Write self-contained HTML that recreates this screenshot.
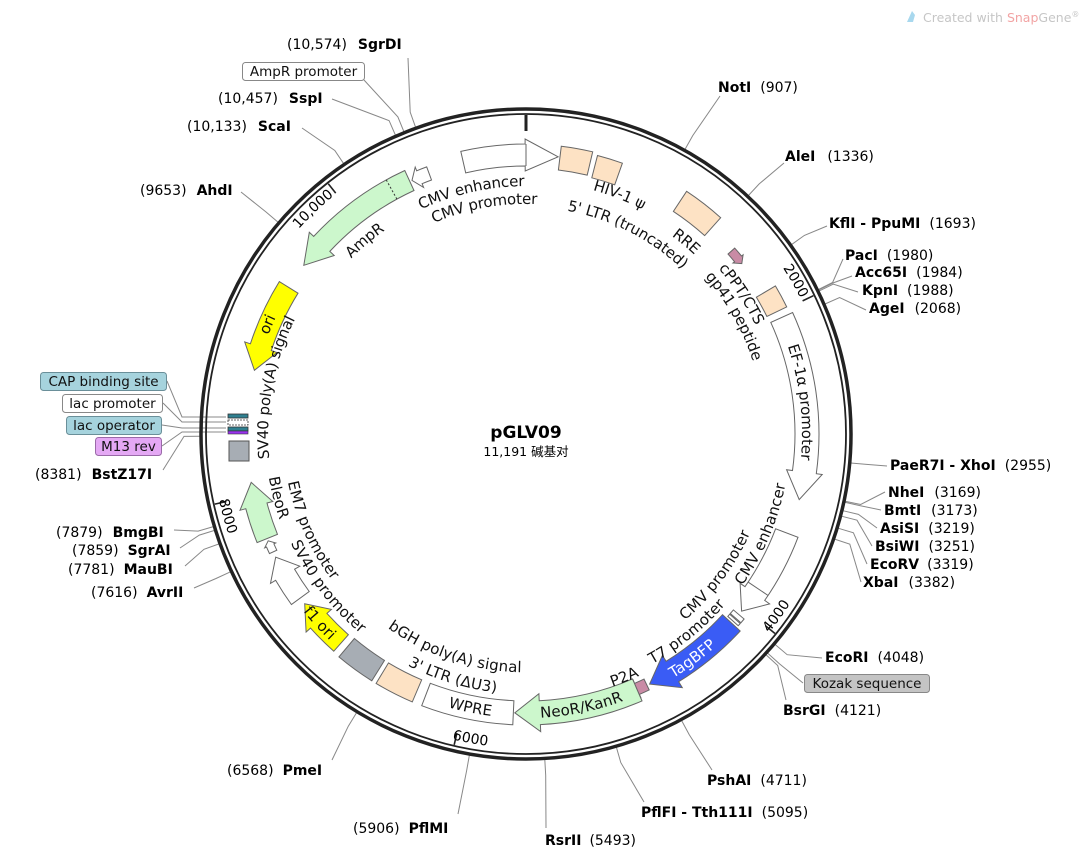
<!DOCTYPE html>
<html><head><meta charset="utf-8">
<style>
html,body{margin:0;padding:0;background:#fff;}
svg{display:block;font-family:"DejaVu Sans","Liberation Sans","Noto Sans CJK SC",sans-serif;}
.e{font-size:14px;fill:#000;}
.b{font-weight:bold;}
.fl{font-size:15px;fill:#111;}
.tk{font-size:14px;fill:#000;}
.bx{font-size:13.5px;fill:#111;}
</style></head>
<body>
<svg id="s" width="1083" height="859" viewBox="0 0 1083 859" xmlns="http://www.w3.org/2000/svg">
<defs id="d"></defs>
<g id="lines" stroke="#888" stroke-width="1" fill="none"></g>
<circle cx="526" cy="434" r="325" fill="none" stroke="#222" stroke-width="3.5"/>
<circle cx="526" cy="434" r="320" fill="none" stroke="#222" stroke-width="1.8"/>
<g id="ticks" stroke="#222" stroke-width="1.6"></g>
<g id="feats" stroke="#666" stroke-width="1"></g>

<rect x="228" y="414" width="20" height="4" fill="#2f7f8f" stroke="#333" stroke-width="0.8"/>
<rect x="228" y="420" width="20" height="5" fill="#fff" stroke="#333" stroke-width="0.8" stroke-dasharray="2,1"/>
<rect x="228" y="427" width="20" height="4" fill="#2f7f8f" stroke="#333" stroke-width="0.8"/>
<rect x="228" y="431" width="20" height="3" fill="#9933ee" stroke="#333" stroke-width="0.6"/>
<rect x="229" y="441" width="20" height="20" fill="#a7adb4" stroke="#555" stroke-width="1"/>

<g class="fl">
<text dominant-baseline="central"><textPath href="#L1" startOffset="50%" text-anchor="middle">CMV enhancer</textPath></text>
<text dominant-baseline="central"><textPath href="#L2" startOffset="50%" text-anchor="middle">CMV promoter</textPath></text>
<text dominant-baseline="central"><textPath href="#L3" startOffset="50%" text-anchor="middle">HIV-1 ψ</textPath></text>
<text dominant-baseline="central"><textPath href="#L4" startOffset="50%" text-anchor="middle">5' LTR (truncated)</textPath></text>
<text dominant-baseline="central"><textPath href="#L5" startOffset="50%" text-anchor="middle">RRE</textPath></text>
<text dominant-baseline="central"><textPath href="#L6" startOffset="50%" text-anchor="middle">cPPT/CTS</textPath></text>
<text dominant-baseline="central"><textPath href="#L7" startOffset="50%" text-anchor="middle">gp41 peptide</textPath></text>
<text dominant-baseline="central"><textPath href="#L8" startOffset="50%" text-anchor="middle">EF-1α promoter</textPath></text>
<text dominant-baseline="central"><textPath href="#L9" startOffset="50%" text-anchor="middle">CMV enhancer</textPath></text>
<text dominant-baseline="central"><textPath href="#L10" startOffset="50%" text-anchor="middle">CMV promoter</textPath></text>
<text dominant-baseline="central"><textPath href="#L11" startOffset="50%" text-anchor="middle">T7 promoter</textPath></text>
<text dominant-baseline="central" fill="#fff"><textPath href="#L12" startOffset="50%" text-anchor="middle">TagBFP</textPath></text>
<text dominant-baseline="central"><textPath href="#L13" startOffset="50%" text-anchor="middle">P2A</textPath></text>
<text dominant-baseline="central"><textPath href="#L14" startOffset="50%" text-anchor="middle">NeoR/KanR</textPath></text>
<text dominant-baseline="central"><textPath href="#L15" startOffset="50%" text-anchor="middle">WPRE</textPath></text>
<text dominant-baseline="central"><textPath href="#L16" startOffset="50%" text-anchor="middle">3' LTR (ΔU3)</textPath></text>
<text dominant-baseline="central"><textPath href="#L17" startOffset="50%" text-anchor="middle">bGH poly(A) signal</textPath></text>
<text dominant-baseline="central"><textPath href="#L18" startOffset="50%" text-anchor="middle">f1 ori</textPath></text>
<text dominant-baseline="central"><textPath href="#L19" startOffset="50%" text-anchor="middle">SV40 promoter</textPath></text>
<text dominant-baseline="central"><textPath href="#L20" startOffset="50%" text-anchor="middle">EM7 promoter</textPath></text>
<text dominant-baseline="central"><textPath href="#L21" startOffset="50%" text-anchor="middle">BleoR</textPath></text>
<text dominant-baseline="central"><textPath href="#L22" startOffset="50%" text-anchor="middle">SV40 poly(A) signal</textPath></text>
<text dominant-baseline="central"><textPath href="#L23" startOffset="50%" text-anchor="middle">ori</textPath></text>
<text dominant-baseline="central"><textPath href="#L24" startOffset="50%" text-anchor="middle">AmpR</textPath></text>
</g>

<g class="tk">
<text dominant-baseline="central"><textPath href="#T1" startOffset="100%" text-anchor="end">2000</textPath></text>
<text dominant-baseline="central"><textPath href="#T2" startOffset="0%" text-anchor="start">4000</textPath></text>
<text dominant-baseline="central"><textPath href="#T3" startOffset="0%" text-anchor="start">6000</textPath></text>
<text dominant-baseline="central"><textPath href="#T4" startOffset="0%" text-anchor="start">8000</textPath></text>
<text dominant-baseline="central"><textPath href="#T5" startOffset="100%" text-anchor="end">10,000</textPath></text>
</g>

<text x="526" y="438" text-anchor="middle" font-size="17" font-weight="bold">pGLV09</text>
<text x="526" y="456" text-anchor="middle" font-size="12.5" font-family="'DejaVu Sans','Noto Sans CJK SC',sans-serif">11,191 碱基对</text>

<g class="e">
<text x="718" y="92"><tspan class="b">NotI</tspan><tspan dx="9">(907)</tspan></text>
<text x="785" y="161"><tspan class="b">AleI</tspan><tspan dx="12">(1336)</tspan></text>
<text x="829" y="228"><tspan class="b">KflI - PpuMI</tspan><tspan dx="9">(1693)</tspan></text>
<text x="845" y="260"><tspan class="b">PacI</tspan><tspan dx="9">(1980)</tspan></text>
<text x="855" y="277"><tspan class="b">Acc65I</tspan><tspan dx="9">(1984)</tspan></text>
<text x="862" y="295"><tspan class="b">KpnI</tspan><tspan dx="9">(1988)</tspan></text>
<text x="869" y="313"><tspan class="b">AgeI</tspan><tspan dx="10">(2068)</tspan></text>
<text x="890" y="470"><tspan class="b">PaeR7I - XhoI</tspan><tspan dx="9">(2955)</tspan></text>
<text x="888" y="497"><tspan class="b">NheI</tspan><tspan dx="10">(3169)</tspan></text>
<text x="884" y="515"><tspan class="b">BmtI</tspan><tspan dx="10">(3173)</tspan></text>
<text x="880" y="533"><tspan class="b">AsiSI</tspan><tspan dx="9">(3219)</tspan></text>
<text x="875" y="551"><tspan class="b">BsiWI</tspan><tspan dx="9">(3251)</tspan></text>
<text x="870" y="569"><tspan class="b">EcoRV</tspan><tspan dx="8">(3319)</tspan></text>
<text x="863" y="587"><tspan class="b">XbaI</tspan><tspan dx="10">(3382)</tspan></text>
<text x="825" y="662"><tspan class="b">EcoRI</tspan><tspan dx="9">(4048)</tspan></text>
<text x="783" y="715"><tspan class="b">BsrGI</tspan><tspan dx="9">(4121)</tspan></text>
<text x="707" y="785"><tspan class="b">PshAI</tspan><tspan dx="9">(4711)</tspan></text>
<text x="641" y="817"><tspan class="b">PflFI - Tth111I</tspan><tspan dx="9">(5095)</tspan></text>
<text x="545" y="845"><tspan class="b">RsrII</tspan><tspan dx="8">(5493)</tspan></text>
<text x="287" y="49">(10,574)<tspan dx="11" class="b">SgrDI</tspan></text>
<text x="218" y="103">(10,457)<tspan dx="11" class="b">SspI</tspan></text>
<text x="187" y="131">(10,133)<tspan dx="11" class="b">ScaI</tspan></text>
<text x="140" y="195">(9653)<tspan dx="10" class="b">AhdI</tspan></text>
<text x="35" y="479">(8381)<tspan dx="10" class="b">BstZ17I</tspan></text>
<text x="56" y="537">(7879)<tspan dx="10" class="b">BmgBI</tspan></text>
<text x="72" y="555">(7859)<tspan dx="9" class="b">SgrAI</tspan></text>
<text x="68" y="574">(7781)<tspan dx="9" class="b">MauBI</tspan></text>
<text x="91" y="597">(7616)<tspan dx="9" class="b">AvrII</tspan></text>
<text x="227" y="775">(6568)<tspan dx="9" class="b">PmeI</tspan></text>
<text x="353" y="833">(5906)<tspan dx="9" class="b">PflMI</tspan></text>
</g>

<rect x="242.5" y="62.5" width="122" height="18" rx="3" fill="#fff" stroke="#888"/>
<text class="bx" x="303.5" y="76" text-anchor="middle">AmpR promoter</text>
<rect x="40.5" y="372.5" width="126" height="18" rx="3" fill="#a6d3dd" stroke="#6a8f99"/>
<text class="bx" x="103.5" y="386" text-anchor="middle">CAP binding site</text>
<rect x="62.5" y="394.5" width="100" height="18" rx="3" fill="#fff" stroke="#888"/>
<text class="bx" x="112.5" y="408" text-anchor="middle">lac promoter</text>
<rect x="66.5" y="416.5" width="95" height="18" rx="3" fill="#a6d3dd" stroke="#6a8f99"/>
<text class="bx" x="114" y="430" text-anchor="middle">lac operator</text>
<rect x="95.5" y="437.5" width="66" height="18" rx="3" fill="#e4a8f4" stroke="#9a6aa8"/>
<text class="bx" x="128.5" y="451" text-anchor="middle">M13 rev</text>
<rect x="804.5" y="674.5" width="125" height="18" rx="3" fill="#c4c4c4" stroke="#888"/>
<text class="bx" x="867" y="688" text-anchor="middle">Kozak sequence</text>

<path d="M907 22 L912 11 L915 15 L913 22 Z" fill="#a8d8ee"/>
<text x="923" y="22" font-size="12.5" fill="#c6c6c6">Created with <tspan fill="#f2a4a4">Snap</tspan>Gene<tspan font-size="8" dy="-5">®</tspan></text>

<script>
(function(){
var cx=526,cy=434,NS="http://www.w3.org/2000/svg";
function P(r,a){var t=a*Math.PI/180;return [cx+r*Math.sin(t),cy-r*Math.cos(t)];}
function f(p){return p[0].toFixed(1)+","+p[1].toFixed(1);}
function A(r,a1,a2,sw){var l=Math.abs(a2-a1)>180?1:0;return " A"+r+","+r+" 0 "+l+" "+sw+" "+f(P(r,a2));}
function el(tag,attrs,parent){var e=document.createElementNS(NS,tag);for(var k in attrs)e.setAttribute(k,attrs[k]);parent.appendChild(e);return e;}
var defs=document.getElementById("d"),feats=document.getElementById("feats"),lines=document.getElementById("lines"),ticks=document.getElementById("ticks");
function feat(a1,a2,rc,w,fill,dir,hd,e){
  var r1=rc-w/2,r2=rc+w/2;e=(e===undefined)?6:e;var hdeg=hd/rc*180/Math.PI,d;
  if(dir==0){d="M"+f(P(r2,a1))+A(r2,a1,a2,1)+" L"+f(P(r1,a2))+A(r1,a2,a1,0)+"Z";}
  else if(dir==1){var b=a2-hdeg;d="M"+f(P(r2,a1))+A(r2,a1,b,1)+" L"+f(P(r2+e,b))+" L"+f(P(rc,a2))+" L"+f(P(r1-e,b))+" L"+f(P(r1,b))+A(r1,b,a1,0)+"Z";}
  else{var b=a1+hdeg;d="M"+f(P(r2,a2))+A(r2,a2,b,0)+" L"+f(P(r2+e,b))+" L"+f(P(rc,a1))+" L"+f(P(r1-e,b))+" L"+f(P(r1,b))+A(r1,b,a2,1)+"Z";}
  el("path",{d:d,fill:fill},feats);
}
var W="#ffffff",G="#ccf7cc",Y="#ffff00",PE="#fde2c4",PK="#c98ba5",GR="#a7adb4",BL="#3a5cf5";
var RC=279,FW=24;
feat(-13,6.6,RC,FW-2,W,1,33,5);
el("path",{d:"M"+f(P(RC-11,0))+" L"+f(P(RC+11,0))},feats);
feat(7,13.3,RC-1,24,PE,0,0);
feat(14.4,19.6,RC-3,23,PE,0,0);
feat(33.5,42,RC,24,PE,0,0);
feat(48.3,51.7,RC-4,9,PK,1,6,2);
feat(59.3,64,RC,22,PE,0,0);
feat(65.5,103.5,RC+2,24,W,1,28,6);
feat(110.8,129.4,RC,24,W,1,22,6);
el("path",{d:"M"+f(P(RC-12,123.7))+" L"+f(P(RC+12,123.7))},feats);
feat(130.3,131.3,RC,14,W,0,0);
feat(131.5,132.1,RC,14,W,0,0);
feat(132.6,153.7,RC,24,BL,1,26,7);
feat(154.3,157.7,RC-1,12,PK,1,6,3);
feat(156.5,182.3,RC,24,G,1,25,7);
feat(182.6,201,RC,24,W,0,0);
feat(203,211,RC,24,PE,0,0);
feat(212,220,RC,24,GR,0,0);
feat(221.5,232.5,RC,22,Y,1,22,6);
feat(234,243.8,RC,22,W,1,20,6);
feat(245,247.5,RC,8,W,1,5,2);
feat(248,260,RC,22,G,1,24,6);
feat(283.2,301.7,RC,22,Y,-1,24,6);
feat(307.2,335.3,RC,22,G,-1,28,6);
el("path",{d:"M"+f(P(RC-11,331.2))+" L"+f(P(RC+11,331.2)),"stroke-dasharray":"2,2",stroke:"#333"},feats);
feat(335.8,339.6,RC-1,14,W,-1,8,4);
var labs=[[-12.7,253,1],[-10.4,235,1],[21.4,258,1],[27,232,1],[39.8,251,1],[57,259,1],[60.5,243,1],[83.4,281,1],
[113,259,-1],[126.7,240,-1],[140.9,257,-1],[143.5,280,-1],[158,262,-1],[168.5,279,-1],[191.5,279,-1],[196.8,255,-1],[198.3,233,-1],
[227.5,280,-1],[232.4,254,-1],[245.8,238,-1],[255.6,256,-1],[280.5,263,1],[293,281,1],[320.2,253,1]];
labs.forEach(function(l,i){var a=l[0],r=l[1],d;
 if(l[2]==1)d="M"+f(P(r,a-80))+A(r,a-80,a+80,1);else d="M"+f(P(r,a+80))+A(r,a+80,a-80,0);
 el("path",{id:"L"+(i+1),d:d,fill:"none"},defs);});
el("path",{d:"M"+f(P(303,0))+" L"+f(P(319,0)),"stroke-width":"3"},ticks);
var tk=[[64.3,1],[128.7,-1],[193,-1],[257.3,-1],[321.7,1]];
tk.forEach(function(t,i){var a=t[0];el("path",{d:"M"+f(P(307,a))+" L"+f(P(319,a))},ticks);
 var r=310,d;
 if(t[1]==1)d="M"+f(P(r,a-60))+A(r,a-60,a-0.6,1);else d="M"+f(P(r,a+0.6))+A(r,a+0.6,a-60,0);
 el("path",{id:"T"+(i+1),d:d,fill:"none"},defs);});
var enz=[[29.2,720,96],[43,784,163],[54.5,827,226],[63.7,843,259],[63.8,852,276],[64,858,292],[66.5,866,310],
[95.1,887,466],[101.9,885,492],[102.1,881,510],[103.6,877,528],[104.6,872,546],[106.8,867,564],[108.8,861,582],
[130.2,822,658],[132.2,803,683],[132.6,786,700],[151.5,712,770],[163.9,644,802],[176.7,546,828],
[190,458,814],[211.3,332,760],[245,194,588],[250.3,185,566],[252.8,180,548],[253.5,174,530],[269.6,163,470],
[310.5,241,192],[326,302,128],[336.4,332,99],[340.2,408,58],[338,364,80]];
enz.forEach(function(z){var a=z[0],p1=P(326,a),p2=P(342,a);
 el("path",{d:"M"+f(p1)+" L"+f(p2)+" L"+z[1]+","+z[2]},lines);});
var lf=[[167,381,417],[163,403,422],[162,425,428],[162,446,432]];
lf.forEach(function(q){el("path",{d:"M"+q[0]+","+q[1]+" L182,"+q[2]+" L226,"+q[2]},lines);});
})();
</script>
</svg>
</body></html>
